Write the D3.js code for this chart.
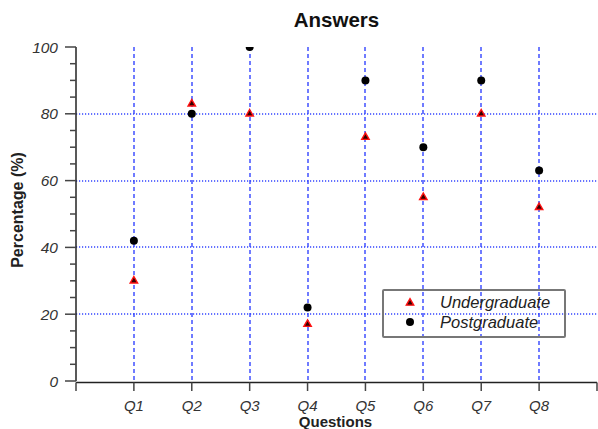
<!DOCTYPE html>
<html><head><meta charset="utf-8">
<script src="https://cdn.jsdelivr.net/npm/d3@7"></script>
<style>body{margin:0;background:#fff}svg{display:block}text{font-family:"Liberation Sans",Arial,sans-serif}</style>
</head><body><svg id="c" width="598" height="429"></svg>
<script>
const categories = ["Q1","Q2","Q3","Q4","Q5","Q6","Q7","Q8"];
const undergraduate = [30, 83, 80, 17, 73, 55, 80, 52];
const postgraduate = [42, 80, 100, 22, 90, 70, 90, 63];
const yTicks = [0, 20, 40, 60, 80, 100];
const yMinorTicks = [5,10,15,25,30,35,45,50,55,65,70,75,85,90,95];
const gridY = [20, 40, 60, 80];

const svg = d3.select("#c");
const L = 76, R = 597, T = 47, B = 381;
const x = d3.scaleLinear().domain([0, 9]).range([L, R]);
const y = d3.scaleLinear().domain([0, 100]).range([B, T]);
const grid = "#3344ff";

svg.append("defs").append("clipPath").attr("id","clip")
  .append("rect").attr("x", L).attr("y", T).attr("width", R - L).attr("height", B - T);

// grid
svg.append("g").selectAll("line").data(gridY).join("line")
  .attr("x1", L).attr("x2", R).attr("y1", d => Math.round(y(d))).attr("y2", d => Math.round(y(d)))
  .attr("stroke", grid).attr("stroke-width", 1.4).attr("stroke-dasharray", "1.2,1.8");
svg.append("g").selectAll("line").data(categories).join("line")
  .attr("x1", (d,i) => Math.round(x(i+1))).attr("x2", (d,i) => Math.round(x(i+1))).attr("y1", T).attr("y2", B)
  .attr("stroke", grid).attr("stroke-width", 1.4).attr("stroke-dasharray", "4,3");

// y axis
const ya = svg.append("g");
ya.append("line").attr("x1", L).attr("x2", L).attr("y1", T).attr("y2", B).attr("stroke", "#222").attr("stroke-width", 1.5);
ya.selectAll("line.maj").data(yTicks).join("line").attr("class","maj")
  .attr("x1", L - 11).attr("x2", L).attr("y1", d => y(d)).attr("y2", d => y(d)).attr("stroke", "#444").attr("stroke-width", 1.5);
ya.selectAll("line.min").data(yMinorTicks).join("line").attr("class","min")
  .attr("x1", L - 6).attr("x2", L).attr("y1", d => y(d)).attr("y2", d => y(d)).attr("stroke", "#444").attr("stroke-width", 1.5);
ya.selectAll("text").data(yTicks).join("text")
  .attr("x", L - 18).attr("y", d => y(d) + 5.5).attr("text-anchor", "end")
  .attr("font-size", 15.5).attr("font-style", "italic").attr("fill", "#333").text(d => d);

// x axis
const xa = svg.append("g");
xa.append("line").attr("x1", L).attr("x2", R).attr("y1", B + 1.5).attr("y2", B + 1.5).attr("stroke", "#222").attr("stroke-width", 1.5);
const xt = d3.range(0, 10);
xa.selectAll("line.t").data(xt).join("line").attr("class","t")
  .attr("x1", d => x(d)).attr("x2", d => x(d)).attr("y1", B + 1.5).attr("y2", B + 10).attr("stroke", "#444").attr("stroke-width", 1.5);
xa.selectAll("text").data(categories).join("text")
  .attr("x", (d,i) => x(i+1)).attr("y", B + 30).attr("text-anchor", "middle")
  .attr("font-size", 15).attr("font-style", "italic").attr("fill", "#333").text(d => d);

// labels
svg.append("text").attr("x", (L+R)/2).attr("y", 27).attr("text-anchor","middle")
  .attr("font-size", 20.5).attr("font-weight","bold").attr("fill","#111").text("Answers");
svg.append("text").attr("x", (L+R)/2 - 1).attr("y", 427).attr("text-anchor","middle")
  .attr("font-size", 15).attr("font-weight","bold").attr("fill","#222").text("Questions");
svg.append("text").attr("transform", `translate(23,${(T+B)/2 - 4}) rotate(-90)`).attr("text-anchor","middle")
  .attr("font-size", 16).attr("font-weight","bold").attr("fill","#222").text("Percentage (%)");

// points
const pts = svg.append("g").attr("clip-path", "url(#clip)");
const tri = d3.symbol().type(d3.symbolTriangle).size(24);
pts.selectAll("path").data(undergraduate).join("path")
  .attr("d", tri).attr("transform", (d,i) => `translate(${x(i+1)},${y(d)})`)
  .attr("fill", "#300").attr("stroke", "#f11").attr("stroke-width", 1.4);
pts.selectAll("circle").data(postgraduate).join("circle")
  .attr("cx", (d,i) => x(i+1)).attr("cy", d => y(d)).attr("r", 4).attr("fill", "#000");

// legend
const lg = svg.append("g");
lg.append("rect").attr("x", 383).attr("y", 290).attr("width", 182).attr("height", 47)
  .attr("fill","none").attr("stroke","#777").attr("stroke-width",2).attr("rx",1);
lg.append("path").attr("d", tri).attr("transform","translate(410,303)")
  .attr("fill", "#300").attr("stroke", "#f11").attr("stroke-width", 1.4);
lg.append("circle").attr("cx", 410).attr("cy", 322).attr("r", 4).attr("fill","#000");
lg.append("text").attr("x", 440).attr("y", 308).attr("font-size", 16.5).attr("font-style","italic").attr("fill","#222").text("Undergraduate");
lg.append("text").attr("x", 440).attr("y", 328).attr("font-size", 16.5).attr("font-style","italic").attr("fill","#222").text("Postgraduate");
</script></body></html>
